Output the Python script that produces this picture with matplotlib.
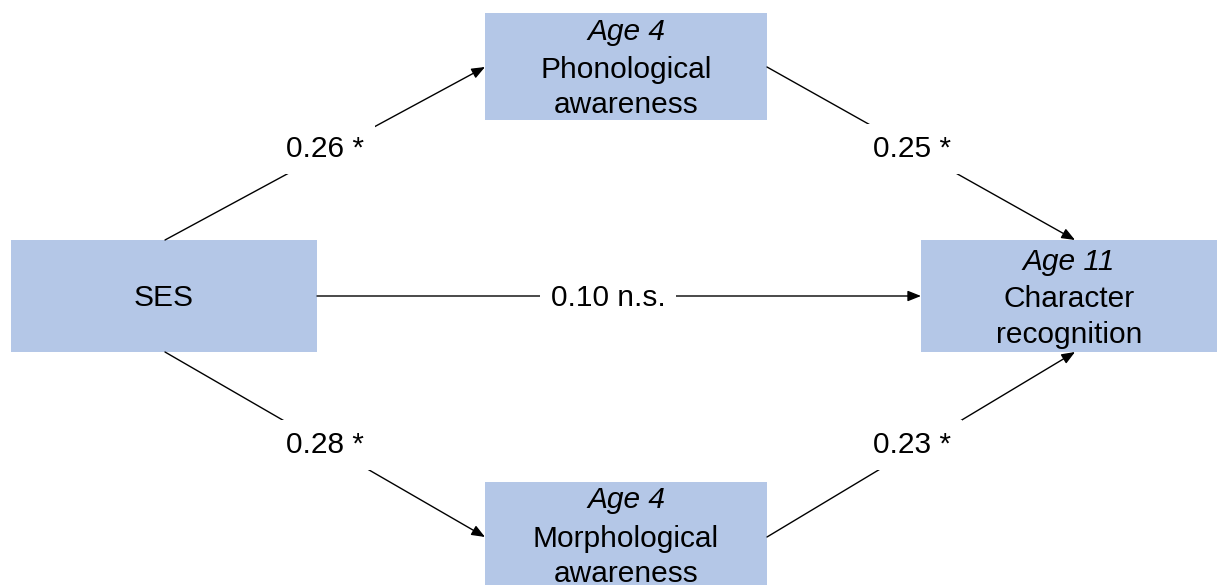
import matplotlib
matplotlib.use("Agg")
import matplotlib.pyplot as plt
from matplotlib.patches import Rectangle

plt.rcParams['font.family'] = ['Liberation Sans', 'DejaVu Sans']

# --- data ---
node_names = ["SES", "Phon", "Morph", "Char"]
node_age = ["", "Age 4", "Age 4", "Age 11"]
node_line1 = ["SES", "Phonological", "Morphological", "Character"]
node_line2 = ["", "awareness", "awareness", "recognition"]
path_from = ["SES", "Phon", "SES", "SES", "Morph"]
path_to = ["Phon", "Char", "Char", "Morph", "Char"]
path_coef = [0.26, 0.25, 0.10, 0.28, 0.23]
path_sig = ["*", "*", "n.s.", "*", "*"]

# --- layout (pixel space, y downward) ---
W, H = 1217, 585
boxes = {  # x0, y0, x1, y1
    "SES": (11, 240, 317, 352),
    "Phon": (485, 13, 767, 120),
    "Morph": (485, 482, 767, 600),
    "Char": (921, 240, 1222, 352),
}
anchors = {
    ("SES", "Phon"): ((165, 240), (485, 67)),
    ("Phon", "Char"): ((767, 67), (1075, 240)),
    ("SES", "Char"): ((317, 296), (921, 296)),
    ("SES", "Morph"): ((165, 352), (485, 537)),
    ("Morph", "Char"): ((767, 537), (1075, 352)),
}
label_pos = {
    ("SES", "Phon"): (325, 149),
    ("Phon", "Char"): (912, 149),
    ("SES", "Char"): (608, 298),
    ("SES", "Morph"): (325, 445),
    ("Morph", "Char"): (912, 445),
}
text_y = {
    "SES": (None, 298, None),
    "Phon": (32, 70, 105),
    "Char": (262, 299, 335),
    "Morph": (500, 539, 574),
}
box_color = "#B4C7E7"
fs = 21.5

fig = plt.figure(figsize=(W / 100, H / 100), dpi=100)
ax = fig.add_axes([0, 0, 1, 1])
ax.set_xlim(0, W)
ax.set_ylim(H, 0)
ax.axis("off")

for name, age, l1, l2 in zip(node_names, node_age, node_line1, node_line2):
    x0, y0, x1, y1 = boxes[name]
    ax.add_patch(Rectangle((x0, y0), x1 - x0, y1 - y0, facecolor=box_color,
                           edgecolor="none", zorder=1))
    cx = (x0 + min(x1, W)) / 2 if name != "Char" else 1069
    ya, y1t, y2t = text_y[name]
    if age:
        ax.text(cx, ya, age, ha="center", va="center", fontsize=fs,
                style="italic", zorder=3)
    ax.text(cx, y1t, l1, ha="center", va="center", fontsize=fs, zorder=3)
    if l2:
        ax.text(cx, y2t, l2, ha="center", va="center", fontsize=fs, zorder=3)

for f, t, c, s in zip(path_from, path_to, path_coef, path_sig):
    (xs, ys), (xe, ye) = anchors[(f, t)]
    ax.annotate("", xy=(xe, ye), xytext=(xs, ys),
                arrowprops=dict(arrowstyle="-|>,head_length=0.8,head_width=0.32",
                                color="black", lw=1.0, shrinkA=0, shrinkB=0),
                zorder=2)
    lx, ly = label_pos[(f, t)]
    ax.text(lx, ly, f"{c:.2f} {s}", ha="center", va="center", fontsize=fs,
            zorder=4,
            bbox=dict(facecolor="white", edgecolor="none", pad=8))

fig.savefig("out.png", dpi=100)
